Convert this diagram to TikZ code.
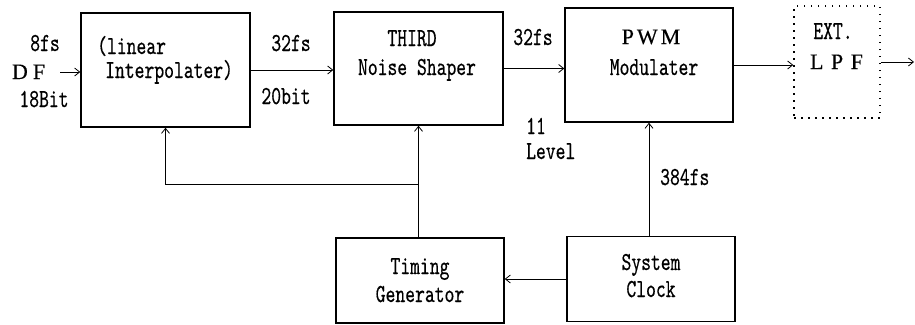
\documentclass[tikz,border=0pt]{standalone}
\usepackage{fontspec}
\newfontfamily\monofnt{lmmono10-regular}[Extension=.otf,FakeStretch=0.72,FakeBold=0.4]
\newfontfamily\seriffnt{Liberation Serif}[FakeBold=0.3]
\usetikzlibrary{arrows.meta}
\begin{document}
\begin{tikzpicture}[x=1pt,y=-1pt,
  blk/.style={draw,line width=1.5pt,inner sep=0pt},
  dotblk/.style={draw,line width=1.5pt,inner sep=0pt,dash pattern=on 1.5pt off 5.5pt},
  txt/.style={font=\monofnt\fontsize{26}{30}\selectfont,inner sep=0pt,anchor=base},
  wtxt/.style={font=\seriffnt\fontsize{22}{26}\selectfont,inner sep=0pt,anchor=base},
  arr/.style={line width=0.8pt,-{Straight Barb[length=5pt,width=8pt]}}]
\useasboundingbox (0,0) rectangle (915,324);
% blocks
\node[blk,minimum width=169pt,minimum height=114pt] (interp) at (165.5,70) {};
\node[blk,minimum width=169pt,minimum height=113pt] (shaper) at (418.5,68.5) {};
\node[blk,minimum width=168pt,minimum height=114pt] (pwm) at (649,65) {};
\node[dotblk,minimum width=86pt,minimum height=112pt] (lpf) at (837,62) {};
\node[blk,minimum width=168pt,minimum height=85pt] (timing) at (420,280.5) {};
\node[blk,minimum width=168pt,minimum height=85pt] (clock) at (651,279) {};
% texts
\node[txt] (t8fs) at (45,51) {8fs};
\node[wtxt] (tdf) at (28.5,79) {D\hspace{5pt}F};
\node[txt] (t18) at (44,107) {18Bit};
\node[txt,anchor=base west] (tlin) at (97,54) {(linear};
\node[txt,anchor=base west] (tint) at (105,78) {Interpolater)};
\node[txt] (t32a) at (291,51) {32fs};
\node[txt] (t20) at (286,104) {20bit};
\node[txt] (tthird) at (412,46) {THIRD};
\node[txt] (tnoise) at (417,75) {Noise Shaper};
\node[txt] (t32b) at (533,45) {32fs};
\node[wtxt] (tpwm) at (651,44) {P\hspace{3pt}W\hspace{3pt}M};
\node[txt] (tmod) at (654,75) {Modulater};
\node[txt] (text) at (833,39) {EXT.};
\node[wtxt] (tlpf) at (836.5,69) {L\hspace{7.5pt}P\hspace{7.5pt}F};
\node[txt,anchor=base west] (t11) at (526,134) {11};
\node[txt,anchor=base west] (tlev) at (526,159) {Level};
\node[txt,anchor=base west] (t384) at (660,185) {384fs};
\node[txt] (ttim) at (420,274) {Timing};
\node[txt] (tgen) at (420,302) {Generator};
\node[txt] (tsys) at (651,270) {System};
\node[txt] (tclk) at (651,297) {Clock};
% connectors
\coordinate (dfin) at (60,72);
\coordinate (out) at (914,62);
\coordinate (fb) at (418.5,184);
\draw[arr] (dfin) -- (dfin -| interp.west);
\draw[arr] (interp.east) -- (interp.east -| shaper.west);
\draw[arr] (shaper.east) -- (shaper.east -| pwm.west);
\draw[arr] (pwm.east) -- (pwm.east -| lpf.west);
\draw[arr] (lpf.east) -- (out);
\draw[arr] (clock.north -| pwm.south) -- (pwm.south);
\draw[arr] (clock.west) -- (clock.west -| timing.east);
\draw[arr] (timing.north -| shaper.south) -- (shaper.south);
\draw[arr] (fb) -| (interp.south);
\end{tikzpicture}
\end{document}
